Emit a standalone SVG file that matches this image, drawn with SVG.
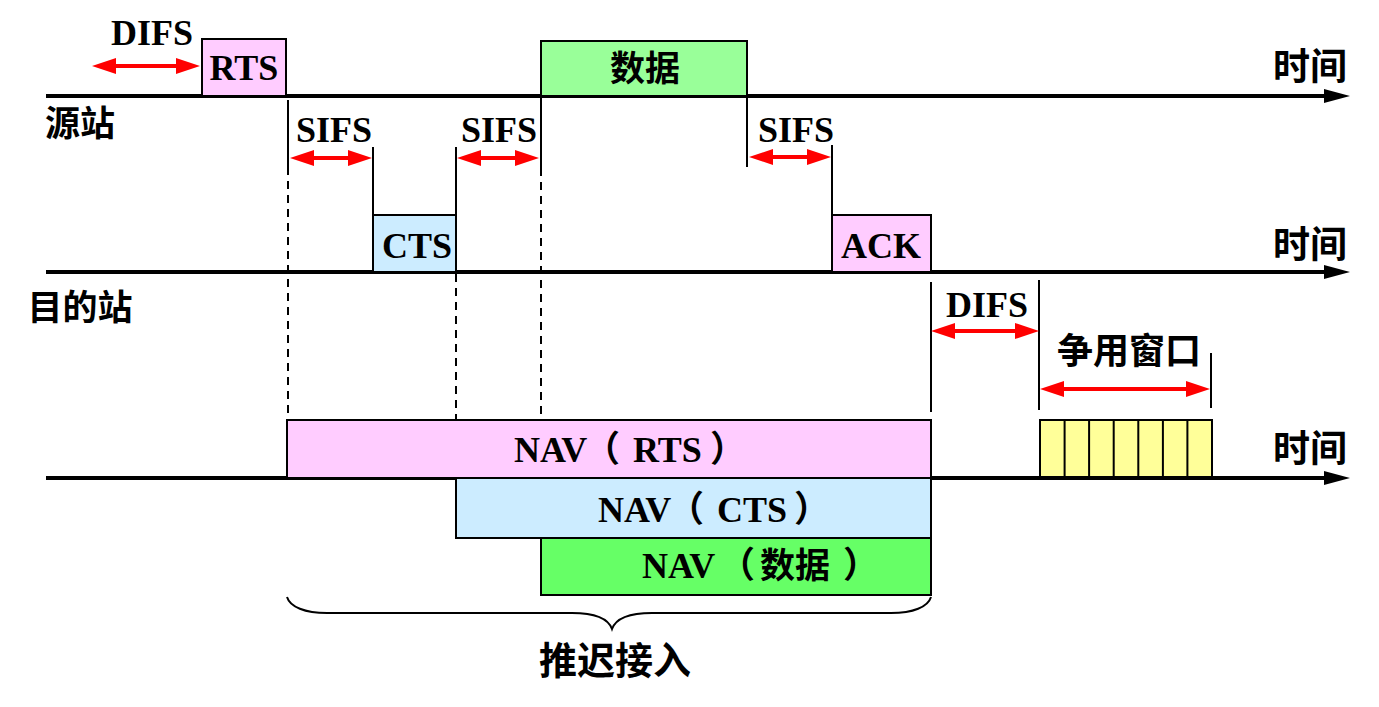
<svg xmlns="http://www.w3.org/2000/svg" width="1379" height="707" viewBox="0 0 1379 707">
<defs>
<style>
.box{stroke:#000;stroke-width:2}
.lat{font-family:"Liberation Serif","Noto Sans CJK SC",serif;font-weight:bold;font-size:36px;fill:#000;text-anchor:middle}
.nav{font-family:"Liberation Serif","Noto Sans CJK SC",serif;font-weight:bold;font-size:36px;fill:#000;text-anchor:start}
.cjk{font-family:"Liberation Serif","Noto Sans CJK SC",serif;font-weight:bold;font-size:35px;fill:#000;text-anchor:middle}
.axis{stroke:#000;stroke-width:4;fill:none}
.vl{stroke:#000;stroke-width:2;fill:none}
.dash{stroke:#000;stroke-width:2;fill:none;stroke-dasharray:8 6}
.red{stroke:#FF0000;stroke-width:4;fill:none;marker-start:url(#rh);marker-end:url(#rh)}
</style>
<marker id="rh" markerUnits="userSpaceOnUse" markerWidth="24" markerHeight="16" refX="12" refY="8" orient="auto-start-reverse">
<path d="M0,0 L24,8 L0,16 Z" fill="#FF0000"/>
</marker>
<marker id="ah" markerUnits="userSpaceOnUse" markerWidth="26" markerHeight="14" refX="6" refY="7" orient="auto">
<path d="M0,0 L26,7 L0,14 Z" fill="#000"/>
</marker>
</defs>
<rect width="1379" height="707" fill="#fff"/>

<g id="connectors">
<line class="axis" x1="46" y1="96" x2="1330" y2="96" marker-end="url(#ah)"/>
<line class="axis" x1="46" y1="272" x2="1330" y2="272" marker-end="url(#ah)"/>
<line class="axis" x1="46" y1="478" x2="1330" y2="478" marker-end="url(#ah)"/>
<line class="vl" x1="288" y1="100" x2="288" y2="167"/>
<line class="dash" x1="288" y1="167" x2="288" y2="420"/>
<line class="vl" x1="373" y1="147" x2="373" y2="215"/>
<line class="vl" x1="456" y1="147" x2="456" y2="215"/>
<line class="dash" x1="456" y1="274" x2="456" y2="420"/>
<line class="vl" x1="541" y1="96" x2="541" y2="168"/>
<line class="dash" x1="541" y1="168" x2="541" y2="420"/>
<line class="vl" x1="747" y1="96" x2="747" y2="167"/>
<line class="vl" x1="832" y1="145" x2="832" y2="215"/>
<line class="vl" x1="931" y1="282" x2="931" y2="412"/>
<line class="vl" x1="1039" y1="280" x2="1039" y2="410"/>
<line class="vl" x1="1211" y1="353" x2="1211" y2="408"/>
<line class="red" x1="104" y1="66" x2="188" y2="66"/>
<line class="red" x1="302" y1="158" x2="360" y2="158"/>
<line class="red" x1="469" y1="158" x2="527" y2="158"/>
<line class="red" x1="761" y1="157" x2="819" y2="157"/>
<line class="red" x1="943" y1="331" x2="1027" y2="331"/>
<line class="red" x1="1052" y1="389" x2="1198" y2="389"/>
<path class="vl" d="M287,597 C290,607 305,613 327,613 L572,613 C594,613 608,618 612,629 C616,618 630,613 652,613 L891,613 C913,613 928,607 931,597"/>
</g>

<g id="rts">
<rect class="box" x="202" y="39" width="84" height="57" fill="#FFCCFF"/>
<text class="lat" x="244" y="80">RTS</text>
</g>
<g id="data">
<rect class="box" x="541" y="41" width="206" height="55" fill="#99FF99"/>
<text class="cjk" x="645" y="81">数据</text>
</g>
<g id="cts">
<rect class="box" x="373" y="215" width="83" height="57" fill="#CCECFF"/>
<text class="lat" x="417" y="258">CTS</text>
</g>
<g id="ack">
<rect class="box" x="832" y="215" width="99" height="57" fill="#FFCCFF"/>
<text class="lat" x="881" y="258">ACK</text>
</g>
<g id="nav-rts">
<rect class="box" x="287" y="420" width="644" height="58" fill="#FFCCFF"/>
<text class="nav" y="462"><tspan x="514">NAV</tspan><tspan x="584">（</tspan><tspan x="633">RTS</tspan><tspan x="710">）</tspan></text>
</g>
<g id="nav-cts">
<rect class="box" x="456" y="478" width="475" height="60" fill="#CCECFF"/>
<text class="nav" y="522"><tspan x="598">NAV</tspan><tspan x="668">（</tspan><tspan x="717">CTS</tspan><tspan x="794">）</tspan></text>
</g>
<g id="nav-data">
<rect class="box" x="541" y="538" width="390" height="57" fill="#66FF66"/>
<text class="nav" y="578"><tspan x="642">NAV</tspan><tspan x="719">（</tspan><tspan x="760" style="font-size:35px">数据</tspan><tspan x="843">）</tspan></text>
</g>
<g id="contention-window">
<rect class="box" x="1040" y="420" width="172" height="57" fill="#FFFF99"/>
<path class="vl" d="M1064.6,420V477M1089.1,420V477M1113.7,420V477M1138.3,420V477M1162.9,420V477M1187.4,420V477"/>
</g>

<g id="labels">
<text class="lat" x="152" y="45">DIFS</text>
<text class="cjk" x="80" y="136">源站</text>
<text class="cjk" x="80" y="320">目的站</text>
<text class="lat" x="334" y="142">SIFS</text>
<text class="lat" x="499" y="142">SIFS</text>
<text class="lat" x="796" y="142">SIFS</text>
<text class="lat" x="987" y="317">DIFS</text>
<text class="cjk" x="1129" y="364" style="font-size:36px">争用窗口</text>
<text class="cjk" x="1310" y="80" style="font-size:37px">时间</text>
<text class="cjk" x="1310" y="258" style="font-size:37px">时间</text>
<text class="cjk" x="1310" y="462" style="font-size:37px">时间</text>
<text class="cjk" x="615" y="674" style="font-size:38px">推迟接入</text>
</g>
</svg>
